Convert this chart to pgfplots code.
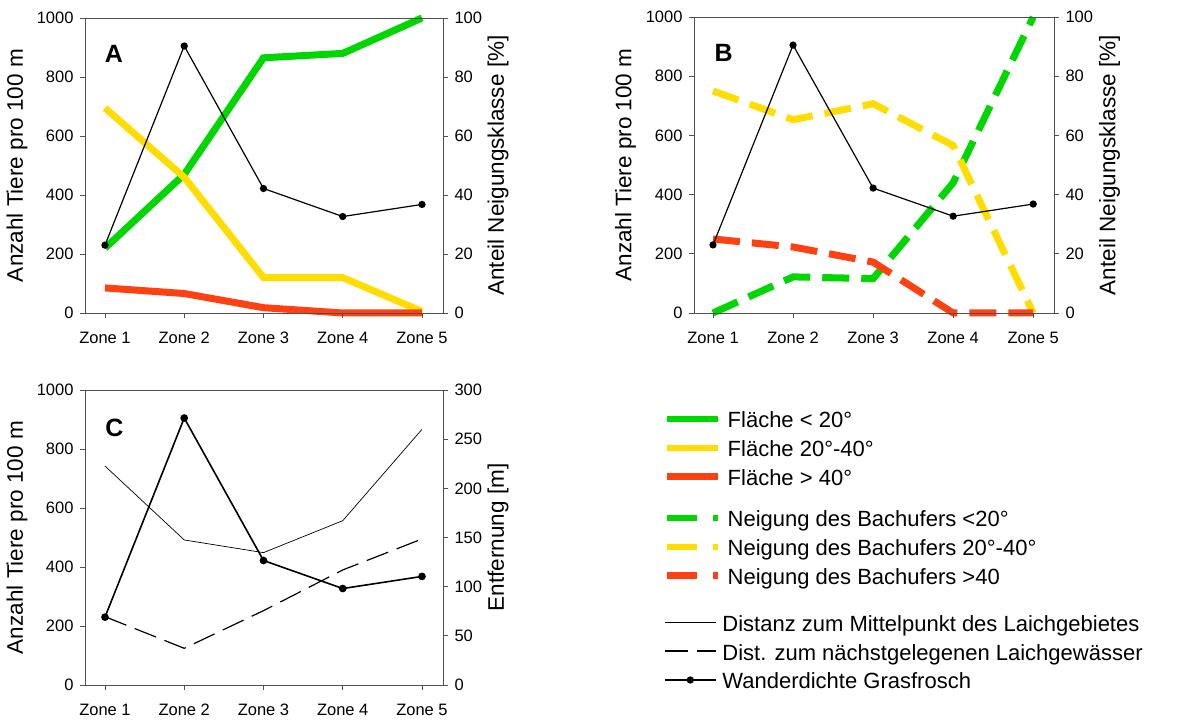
\documentclass[border=0pt]{standalone}
\usepackage{fontspec}
\setmainfont{Liberation Sans}
\usepackage{pgfplots}
\usepackage{pgfplotstable}
\pgfplotsset{compat=1.18}
\definecolor{cgreen}{RGB}{0,214,0}
\definecolor{cyellow}{RGB}{255,221,0}
\definecolor{cred}{RGB}{255,64,16}
\definecolor{axgray}{RGB}{80,80,80}

\pgfplotstableread{
zone frog
1 230
2 905
3 422
4 327
5 368
}\frog
\pgfplotstableread{
zone lt20 m2040 gt40
1 22 69.5 8.5
2 47 46 6.6
3 86.5 12 1.8
4 88 12 0
5 100 0.5 0
}\flaeche
\pgfplotstableread{
zone lt20 m2040 gt40
1 0 75 25
2 12.2 65.3 22.3
3 11.6 70.7 17.2
4 44 56.6 0
5 100 0 0
}\bachufer
\pgfplotstableread{
zone mitte naechst
1 222.7 69.5
2 147.5 37.3
3 134.6 75.6
4 167.1 117
5 260 148.5
}\entf

\newcommand\ls{\hspace*{4pt}\rule[-4.1pt]{0pt}{23.6pt}}
\tikzset{panel/.style={font=\bfseries\fontsize{25}{25}\selectfont}}

\pgfplotsset{
  base/.style={
    scale only axis, clip=false,
    tick align=outside, major tick length=5pt,
    tick style={axgray, line width=0.8pt},
    axis line style={axgray, line width=0.8pt},
    tick label style={font=\fontsize{16.5}{18}\selectfont},
    label style={font=\fontsize{22.5}{26}\selectfont},
    /pgf/number format/assume math mode=true,
    /pgf/number format/1000 sep={},
    scaled ticks=false,
  },
  leftax/.style={base, ymin=0, ymax=1000, ytick={0,200,400,600,800,1000},
    xtick={1,2,3,4,5}, xticklabels={Zone 1,Zone 2,Zone 3,Zone 4,Zone 5},
    ytick pos=left, xtick pos=bottom,
    xticklabel style={yshift=-10pt, text height=12pt, text depth=0pt},
    yticklabel style={xshift=-3pt},
    ylabel={Anzahl Tiere pro 100 m},
    ylabel style={at={(axis description cs:-0.19,0.5)}, anchor=center}},
  rightax/.style={base, axis y line*=right, axis x line=none, xtick=\empty,
    yticklabel style={xshift=3pt},
    ylabel style={at={(axis description cs:1.154,0.5)}, anchor=center}},
  frogline/.style={black, line width=1.2pt, mark=*, mark size=3pt},
  legend image code/.code={\draw[mark repeat=2, mark phase=2, #1] plot coordinates {(0pt,0pt) (25.5pt,0pt) (51pt,0pt)};},
  legax/.style={hide axis, scale only axis, width=10pt, height=10pt, xmin=0, xmax=1, ymin=0, ymax=1, anchor=north west,
    legend cell align=left,
    legend style={at={(0,1)}, anchor=north west, draw=none, fill=none, inner sep=0pt, row sep=3.9pt,
      font=\fontsize{22}{24}\selectfont}},
}

\begin{document}
\begin{tikzpicture}
\useasboundingbox (0,0) rectangle (1196pt,722pt);

% ---------- Panel A ----------
\begin{axis}[rightax, at={(85pt,409pt)}, anchor=south west, width=358pt, height=295pt,
  xmin=0.748, xmax=5.265, ymin=0, ymax=100, ytick={0,20,40,60,80,100},
  ylabel={Anteil Neigungsklasse [\%]}]
\addplot[cgreen, line width=7pt] table[x=zone, y=lt20]{\flaeche};
\addplot[cyellow, line width=7pt] table[x=zone, y=m2040]{\flaeche};
\addplot[cred, line width=7pt] table[x=zone, y=gt40]{\flaeche};
\end{axis}
\begin{axis}[leftax, at={(85pt,409pt)}, anchor=south west, width=358pt, height=295pt,
  xmin=0.748, xmax=5.265]
\addplot[frogline] table[x=zone, y=frog]{\frog};
\node[panel] at (axis description cs:0.081,0.878) {A};
\end{axis}

% ---------- Panel B ----------
\begin{axis}[rightax, at={(694pt,409pt)}, anchor=south west, width=360pt, height=296pt,
  xmin=0.7625, xmax=5.26, ymin=0, ymax=100, ytick={0,20,40,60,80,100},
  ylabel={Anteil Neigungsklasse [\%]}]
\addplot[cgreen, line width=7pt, dash pattern=on 27pt off 12pt] table[x=zone, y=lt20]{\bachufer};
\addplot[cyellow, line width=7pt, dash pattern=on 27pt off 12pt] table[x=zone, y=m2040]{\bachufer};
\addplot[cred, line width=7pt, dash pattern=on 27pt off 12pt] table[x=zone, y=gt40]{\bachufer};
\end{axis}
\begin{axis}[leftax, at={(694pt,409pt)}, anchor=south west, width=360pt, height=296pt,
  xmin=0.7625, xmax=5.26]
\addplot[frogline] table[x=zone, y=frog]{\frog};
\node[panel] at (axis description cs:0.082,0.878) {B};
\end{axis}

% ---------- Panel C ----------
\begin{axis}[rightax, at={(85pt,37pt)}, anchor=south west, width=358pt, height=295pt,
  xmin=0.748, xmax=5.265, ymin=0, ymax=300, ytick={0,50,100,150,200,250,300},
  ylabel={Entfernung [m]}]
\addplot[black, line width=0.7pt] table[x=zone, y=mitte]{\entf};
\addplot[black, line width=1.2pt, dash pattern=on 23pt off 9pt] table[x=zone, y=naechst]{\entf};
\end{axis}
\begin{axis}[leftax, at={(85pt,37pt)}, anchor=south west, width=358pt, height=295pt,
  xmin=0.748, xmax=5.265]
\addplot[frogline, line width=1.6pt] table[x=zone, y=frog]{\frog};
\node[panel] at (axis description cs:0.082,0.873) {C};
\end{axis}

% ---------- Legends ----------
\begin{axis}[legax, at={(664pt,315.75pt)}]
\addlegendimage{cgreen, line width=6.5pt}
\addlegendentry{\ls Fläche < 20°}
\addlegendimage{cyellow, line width=6.5pt}
\addlegendentry{\ls Fläche 20°-40°}
\addlegendimage{cred, line width=6.5pt}
\addlegendentry{\ls Fläche > 40°}
\end{axis}
\begin{axis}[legax, at={(664pt,216.75pt)}]
\addlegendimage{cgreen, line width=6.5pt, dash pattern=on 30pt off 16pt}
\addlegendentry{\ls Neigung des Bachufers <20°}
\addlegendimage{cyellow, line width=6.5pt, dash pattern=on 30pt off 16pt}
\addlegendentry{\ls Neigung des Bachufers 20°-40°}
\addlegendimage{cred, line width=6.5pt, dash pattern=on 30pt off 16pt}
\addlegendentry{\ls Neigung des Bachufers >40}
\end{axis}
\begin{axis}[legax, at={(664pt,112.5pt)}]
\addlegendimage{black, line width=0.7pt}
\addlegendentry{\ls Distanz zum Mittelpunkt des Laichgebietes}
\addlegendimage{black, line width=1.2pt, dash pattern=on 23pt off 9pt}
\addlegendentry{\ls Dist. zum nächstgelegenen Laichgewässer}
\addlegendimage{black, line width=1.2pt, mark=*, mark size=3pt}
\addlegendentry{\ls Wanderdichte Grasfrosch}
\end{axis}
\end{tikzpicture}
\end{document}
